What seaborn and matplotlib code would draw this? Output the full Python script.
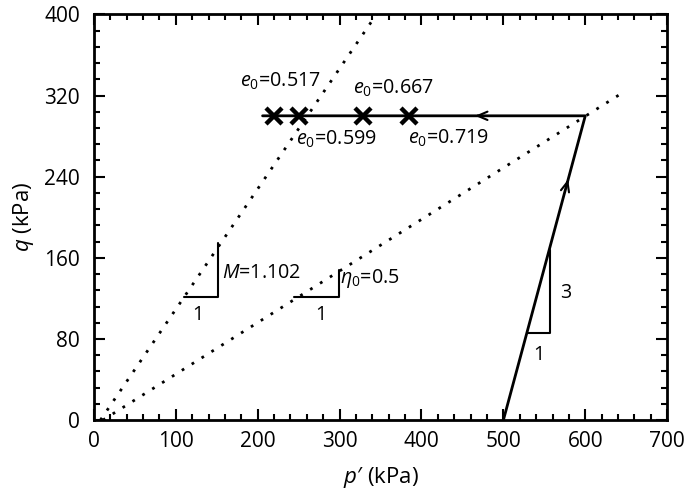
import matplotlib
matplotlib.use("Agg")
import matplotlib.pyplot as plt
from matplotlib.ticker import MultipleLocator
import seaborn as sns
import pandas as pd
import numpy as np

# stress path (p', q)
path_p = [500, 600, 206]
path_q = [0, 300, 300]

# critical state line and eta0 line (dotted)
csl_p = [8, 345]
csl_q = [0, 400]
eta_p = [11, 646]
eta_q = [0, 323]

# e0 markers along the path
e0_p = [220, 251, 329, 385]
e0_q = [300, 300, 300, 300]
e0_labels = ["0.517", "0.599", "0.667", "0.719"]
e0_text_pos = [(178, 334), (247, 277), (317, 327), (383, 278)]

# slope triangles: (x0, x1, y0, y1)
tri_M = (110, 152, 121, 175)
tri_eta = (244, 299, 121, 148)
tri_path = (530, 557, 86, 168)

sns.set_style("ticks")
plt.rcParams["font.family"] = ["Open Sans", "DejaVu Sans"]
plt.rcParams["mathtext.fontset"] = "custom"
plt.rcParams["mathtext.rm"] = "Open Sans"
plt.rcParams["mathtext.it"] = "Open Sans:italic"
for k in ["text.color", "axes.labelcolor", "xtick.color", "ytick.color", "axes.edgecolor"]:
    plt.rcParams[k] = "black"

fig = plt.figure(figsize=(6.85, 4.96), dpi=100)
ax = fig.add_axes([0.137, 0.153, 0.837, 0.818])

path_df = pd.DataFrame({"p": path_p, "q": path_q})
sns.lineplot(data=path_df, x="p", y="q", sort=False, color="black", lw=2, ax=ax)
sns.lineplot(x=csl_p, y=csl_q, color="black", lw=2, ls=(0, (1, 3.2)), ax=ax)
sns.lineplot(x=eta_p, y=eta_q, color="black", lw=2, ls=(0, (1, 3.2)), ax=ax)
ax.plot(e0_p, e0_q, ls="none", marker="x", color="black", ms=11, mew=3.2, zorder=5)

# arrows in the middle of each leg
def mid_arrow(p0, q0, p1, q1, frac):
    pm = p0 + frac * (p1 - p0)
    qm = q0 + frac * (q1 - q0)
    pa = p0 + (frac - 0.03) * (p1 - p0)
    qa = q0 + (frac - 0.03) * (q1 - q0)
    ax.annotate("", xy=(pm, qm), xytext=(pa, qa),
                arrowprops=dict(arrowstyle="->,head_length=0.7,head_width=0.3", color="black", lw=1.5))

mid_arrow(path_p[0], path_q[0], path_p[1], path_q[1], 0.8)
mid_arrow(path_p[1], path_q[1], path_p[2], path_q[2], 0.35)

fs = 14.2
for lab, (tx, ty) in zip(e0_labels, e0_text_pos):
    ax.text(tx, ty, "$e_0$=" + lab, fontsize=fs, va="center", ha="left")

# slope triangles
for (x0, x1, y0, y1) in [tri_M, tri_eta, tri_path]:
    ax.plot([x0, x1, x1], [y0, y0, y1], color="black", lw=1.5)

ax.text(127, 104, "1", fontsize=fs, ha="center", va="center")
ax.text(157, 145, "$M$=1.102", fontsize=fs, ha="left", va="center")
ax.text(277, 104, "1", fontsize=fs, ha="center", va="center")
ax.text(301, 140, r"$\eta_0$=0.5", fontsize=fs, ha="left", va="center")
ax.text(543, 64, "1", fontsize=fs, ha="center", va="center")
ax.text(576, 125, "3", fontsize=fs, ha="center", va="center")

ax.set_xlim(0, 700)
ax.set_ylim(0, 400)
ax.xaxis.set_major_locator(MultipleLocator(100))
ax.xaxis.set_minor_locator(MultipleLocator(20))
ax.yaxis.set_major_locator(MultipleLocator(80))
ax.yaxis.set_minor_locator(MultipleLocator(16))
ax.tick_params(which="both", direction="in", top=True, right=True, width=1.5, labelsize=15)
ax.tick_params(which="major", length=8)
ax.tick_params(which="minor", length=4.5)
ax.tick_params(axis="y", pad=10)
ax.tick_params(axis="x", pad=8)
for s in ax.spines.values():
    s.set_linewidth(2)
    s.set_visible(True)

ax.set_xlabel("$p$′ (kPa)", fontsize=16, labelpad=9)
ax.set_ylabel("$q$ (kPa)", fontsize=16, labelpad=6)

fig.savefig("out.png", dpi=100)
